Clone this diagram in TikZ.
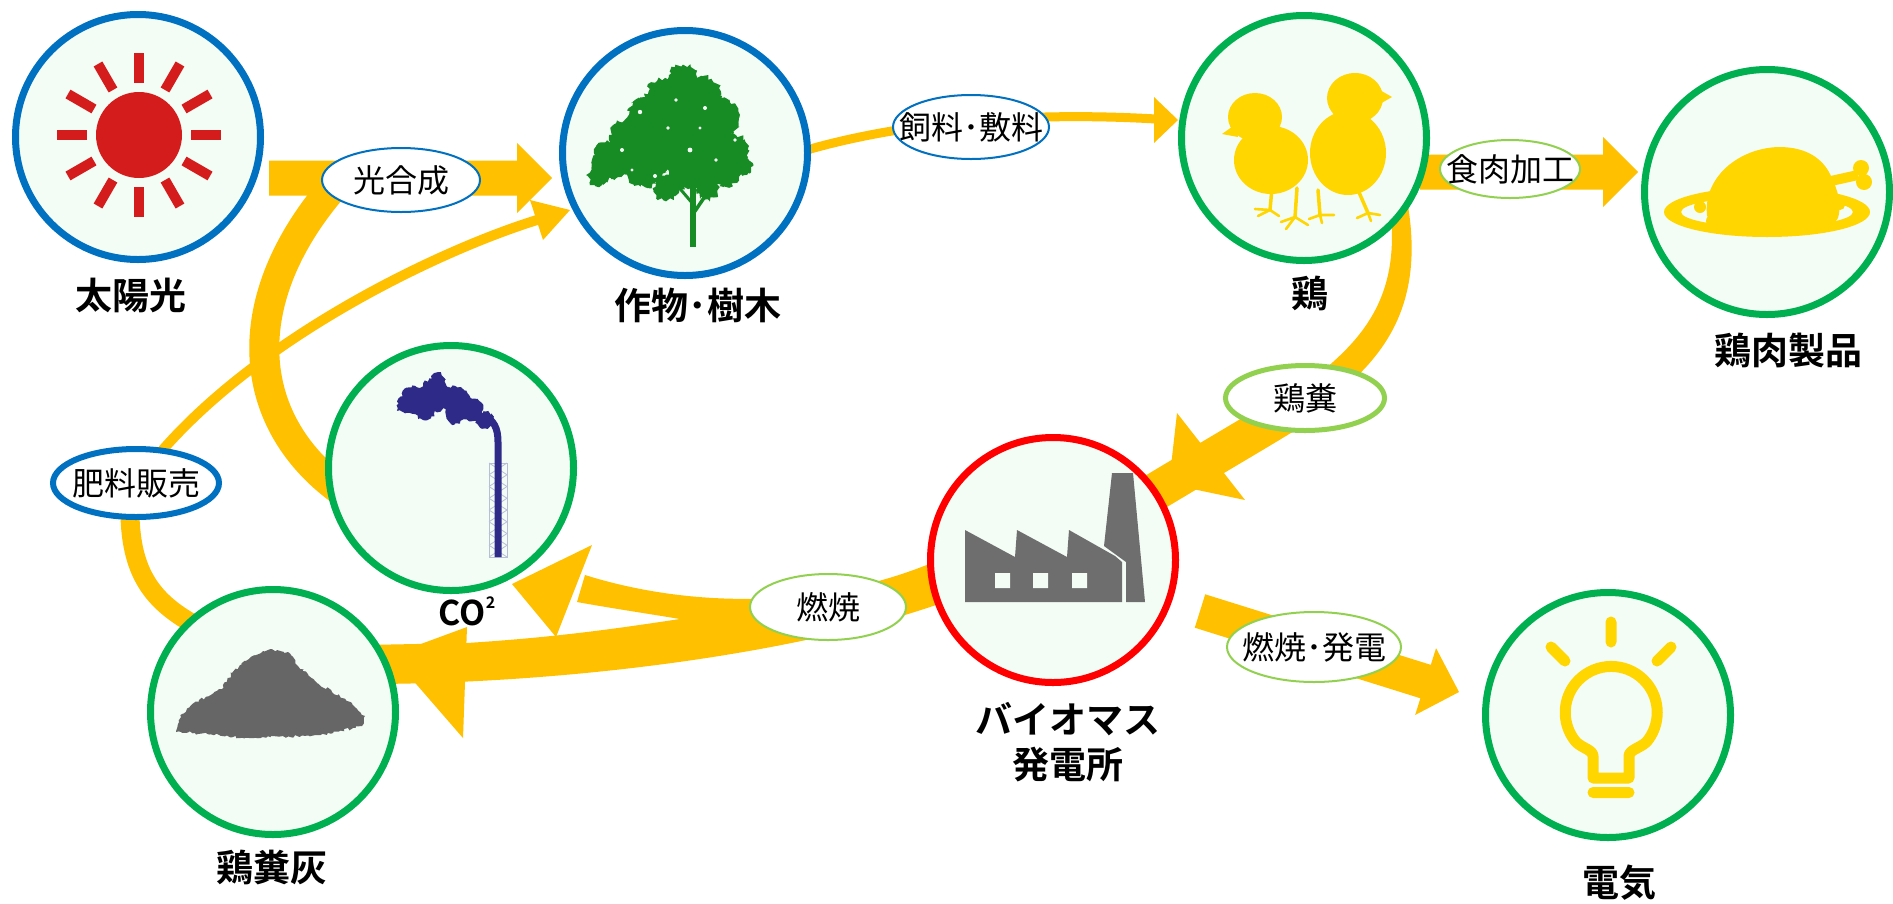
\documentclass[tikz,border=0pt]{standalone}
\usepackage{fontspec}
\newfontfamily\jp{Noto Sans CJK JP}
\newfontfamily\jpb{Noto Sans CJK JP Bold}
\usetikzlibrary{calc,shapes.geometric,decorations.pathmorphing}

\definecolor{flowc}{RGB}{255,192,0}
\definecolor{ringblue}{RGB}{0,112,192}
\definecolor{ringgreen}{RGB}{0,176,80}
\definecolor{ringred}{RGB}{255,0,0}
\definecolor{tagreen}{RGB}{146,208,80}
\definecolor{bgc}{RGB}{244,252,246}
\definecolor{sunred}{RGB}{212,28,28}
\definecolor{leafc}{RGB}{24,140,36}
\definecolor{chicky}{RGB}{255,214,0}
\definecolor{factgray}{RGB}{110,110,110}
\definecolor{ashgray}{RGB}{102,102,102}
\definecolor{smoke}{RGB}{46,42,135}
\definecolor{lattice}{RGB}{185,190,215}

% straight block arrow: start, tip, half body width, half head width, head length
\newcommand\blockarrow[5]{%
  \coordinate (ba-h) at ($(#2)!#5!(#1)$);
  \fill[flowc] ($(#1)!#3!90:(#2)$) -- ($(ba-h)!#3!-90:(#1)$) -- ($(ba-h)!#4!-90:(#1)$)
    -- (#2) -- ($(ba-h)!#4!90:(#1)$) -- ($(ba-h)!#3!90:(#1)$) -- ($(#1)!#3!-90:(#2)$) -- cycle;}

\begin{document}
\begin{tikzpicture}[x=1pt,y=-1pt,
  ringnode/.style={circle, draw=#1, line width=7pt, fill=bgc, minimum size=245pt, inner sep=0pt},
  tagell/.style={ellipse, draw=#1, fill=white, inner sep=0pt, font=\jp\fontsize{32}{34}\selectfont},
  lbl/.style={inner sep=0pt, font=\jpb\fontsize{37}{45}\selectfont, align=center},
  leafy/.style={decorate, decoration={random steps, segment length=2.5pt, amplitude=2.4pt}},
  rough/.style={decorate, decoration={random steps, segment length=2.5pt, amplitude=1.5pt}},
]
\pgfmathsetseed{7}
\useasboundingbox (0,0) rectangle (1893,903);
\fill[white] (0,0) rectangle (1893,903);

% ---- centres of the stations
\coordinate (c-sun)   at (138,137);
\coordinate (c-tree)  at (685,153);
\coordinate (c-chick) at (1304,138);
\coordinate (c-meat)  at (1767,192);
\coordinate (c-co2)   at (451,468);
\coordinate (c-ash)   at (273,712);
\coordinate (c-plant) at (1053,560);
\coordinate (c-bulb)  at (1608,715);

% ---- flows
% photosynthesis
\coordinate (ps-a) at (269,178); \coordinate (ps-b) at (552,178);
\blockarrow{ps-a}{ps-b}{17.5pt}{35pt}{35pt}
% meat processing
\coordinate (mp-a) at (1420,172); \coordinate (mp-b) at (1638,172);
\blockarrow{mp-a}{mp-b}{17.5pt}{35pt}{35pt}
% combustion and power generation
\coordinate (pg-a) at (1200,611); \coordinate (pg-b) at (1459,692);
\blockarrow{pg-a}{pg-b}{17.5pt}{35pt}{35pt}

% CO2 taken up again by photosynthesis
\coordinate (cc-a) at (340,490); \coordinate (cc-b) at (335,185);
\draw[flowc, line width=30pt] (cc-a) .. controls (245,420) and (235,300) .. (cc-b);

% feed and bedding
\coordinate (fd-a) at (800,152); \coordinate (fd-b) at (1156,119); \coordinate (fd-t) at (1178,120);
\draw[flowc, line width=9pt] (fd-a) .. controls (880,128) and (1000,110) .. (fd-b);
\fill[flowc] (1154,97) -- (fd-t) -- (1154,143) -- cycle;

% fertiliser sales
\coordinate (fz-a) at (195,625); \coordinate (fz-m1) at (130,500);
\coordinate (fz-m2) at (150,465); \coordinate (fz-b) at (537,220); \coordinate (fz-t) at (570,210);
\draw[flowc, line width=19pt] (fz-a) .. controls (150,600) and (128,570) .. (fz-m1);
\draw[flowc, line width=10pt] (fz-m2) .. controls (250,340) and (440,250) .. (fz-b);
\fill[flowc] (530,200) -- (fz-t) -- (543,240) -- cycle;

% chicken manure to the plant
\fill[flowc] (1389,200) .. controls (1404,300) and (1360,345) .. (1295,392) -- (1315,410)
  .. controls (1385,362) and (1426,305) .. (1407,200) -- cycle;
\draw[flowc, line width=38pt] (1300,405) .. controls (1260,430) and (1230,447) .. (1150,495);
\fill[flowc] (1177,413) -- (1169,484) -- (1245,500) -- cycle;

% combustion: split towards CO2 and ash
\fill[flowc] (950,555) .. controls (820,615) and (680,605) .. (585,575) -- (577,602)
  .. controls (610,608) and (650,614) .. (680,619)
  .. controls (620,628) and (560,637) .. (467,643) -- (365,645) -- (365,684)
  .. controls (560,684) and (800,655) .. (950,600) -- cycle;
\fill[flowc] (592,545) -- (512,584) -- (556,637) -- cycle;
\fill[flowc] (467,627) -- (391,655) -- (463,738) -- cycle;

% ---- stations
\node[ringnode=ringblue]  (sun)   at (c-sun)   {};
\node[ringnode=ringblue]  (tree)  at (c-tree)  {};
\node[ringnode=ringgreen] (chick) at (c-chick) {};
\node[ringnode=ringgreen] (meat)  at (c-meat)  {};
\node[ringnode=ringgreen] (co2)   at (c-co2)   {};
\node[ringnode=ringgreen] (ash)   at (c-ash)   {};
\node[ringnode=ringred]   (plant) at (c-plant) {};
\node[ringnode=ringgreen] (bulb)  at (c-bulb)  {};

% ---- sun
\coordinate (sun-i) at (139,135);
\fill[sunred] (sun-i) circle[radius=43];
\foreach \a in {0,30,...,330}
  \draw[sunred, line width=10pt] ($(sun-i)+(\a:52)$) -- ($(sun-i)+(\a:82)$);

% ---- tree
\draw[leafc, line width=6pt] (693,247) -- (693,178);
\draw[leafc, line width=3.5pt] (693,214) -- (712,186);
\draw[leafc, line width=3pt] (693,204) -- (676,184);
\fill[leafc, leafy]
  (683,80) circle[radius=15] (665,97) circle[radius=19] (701,95) circle[radius=19]
  (650,118) circle[radius=23] (685,115) circle[radius=25] (718,118) circle[radius=21]
  (630,140) circle[radius=21] (665,140) circle[radius=25] (704,140) circle[radius=25]
  (732,150) circle[radius=16] (611,160) circle[radius=19] (645,166) circle[radius=21]
  (688,168) circle[radius=21] (724,170) circle[radius=17] (599,176) circle[radius=11]
  (666,188) circle[radius=13] (708,188) circle[radius=11] (744,166) circle[radius=9];
\fill[bgc] (640,112) circle[radius=2.2] (668,128) circle[radius=1.8] (705,108) circle[radius=2]
  (622,150) circle[radius=2] (690,150) circle[radius=2.4] (716,160) circle[radius=1.8]
  (655,176) circle[radius=2] (700,128) circle[radius=1.6] (676,100) circle[radius=1.8]
  (735,140) circle[radius=1.8] (632,170) circle[radius=1.6];

% ---- chicks
\fill[chicky] (1255,117) ellipse[x radius=27, y radius=24];
\fill[chicky] (1271,160) ellipse[x radius=37, y radius=34];
\fill[chicky] (1236,124) -- (1222,134) -- (1238,137) -- cycle;
\fill[chicky] (1355,98) ellipse[x radius=28, y radius=25];
\fill[chicky] (1348,153) ellipse[x radius=38, y radius=42];
\fill[chicky] (1378,89) -- (1392,97) -- (1378,105) -- cycle;
\draw[chicky, line width=3.5pt, line cap=round]
  (1272,188) -- (1270,210) (1297,188) -- (1295,217)
  (1318,190) -- (1320,215) (1358,190) -- (1368,213);
\draw[chicky, line width=2.6pt, line cap=round]
  (1270,210) -- (1255,209) (1270,210) -- (1258,216) (1270,210) -- (1279,216)
  (1295,217) -- (1281,222) (1295,217) -- (1286,229) (1295,217) -- (1308,225)
  (1320,215) -- (1309,219) (1320,215) -- (1334,215) (1320,215) -- (1322,223)
  (1368,213) -- (1357,218) (1368,213) -- (1380,215) (1368,213) -- (1371,221);

% ---- roast chicken on a plate
\fill[chicky, even odd rule] (1767,212) ellipse[x radius=103, y radius=25]
  (1767,212) ellipse[x radius=86, y radius=15];
\fill[chicky] (1707,215) .. controls (1703,178) and (1738,148) .. (1779,147)
  .. controls (1808,147) and (1823,160) .. (1830,174)
  .. controls (1838,190) and (1842,205) .. (1838,218)
  .. controls (1834,226) and (1820,228) .. (1800,228) -- (1725,228)
  .. controls (1712,228) and (1708,222) .. (1707,215) -- cycle;
\draw[chicky, line width=10pt] (1822,183) -- (1858,175);
\fill[chicky] (1861,168) circle[radius=8] (1864,182) circle[radius=8];
\fill[chicky] (1700,207) circle[radius=6] (1712,221) circle[radius=6] (1840,205) circle[radius=5];

% ---- smoke stack
\draw[lattice, line width=1pt] (489,463) rectangle (507,557);
\foreach \k in {0,...,7}
  \draw[lattice, line width=0.8pt] (489,463+\k*11.75) -- (507,474.75+\k*11.75)
    (507,463+\k*11.75) -- (489,474.75+\k*11.75);
\draw[smoke, line width=7pt] (498,557) -- (498,442) .. controls (498,428) and (494,420) .. (482,414);
\fill[smoke, rough]
  (415,400) circle[radius=14] (435,395) circle[radius=16] (455,400) circle[radius=14]
  (472,410) circle[radius=11] (485,420) circle[radius=8] (438,380) circle[radius=7]
  (405,405) circle[radius=8] (425,410) circle[radius=10] (455,415) circle[radius=9];

% ---- ash heap
\fill[ashgray, rough]
  (176,732) -- (182,714) -- (199,700) -- (222,689) -- (232,673) -- (249,659) -- (268,650)
  -- (288,652) -- (298,666) -- (315,681) -- (332,692) -- (352,703) -- (365,716)
  -- (362,726) -- (333,733) -- (290,737) -- (249,738) -- (195,733) -- cycle;

% ---- factory
\fill[factgray] (965,530) -- (1015,557) -- (1017,530) -- (1067,557) -- (1069,530)
  -- (1115,556) -- (1122,562) -- (1122,602) -- (965,602) -- cycle;
\fill[factgray] (1112,473) -- (1133,473) -- (1145,602) -- (1126,602) -- (1126,562) -- (1104,546) -- cycle;
\fill[bgc] (995,573) rectangle (1010,588) (1033,573) rectangle (1048,588) (1072,573) rectangle (1087,588);

% ---- light bulb
\draw[chicky, line width=11pt, line join=round]
  (1593,778) -- (1593,756) .. controls (1593,750) and (1582,748) .. (1576,742)
  arc[start angle=140, end angle=400, radius=46]
  .. controls (1640,748) and (1629,750) .. (1629,756) -- (1629,778) -- cycle;
\draw[chicky, line width=11pt, line cap=round]
  (1593,792.5) -- (1629,792.5)
  (1611,622) -- (1611,642)
  (1551,647) -- (1565,661)
  (1671,647) -- (1657,661);

% ---- flow tags
\node[tagell=ringblue, line width=2pt, minimum width=158pt, minimum height=64pt] (t-photo) at (401,180) {\makebox[0pt]{光合成}};
\node[tagell=ringblue, line width=2pt, minimum width=156pt, minimum height=64pt] (t-feed) at (971,127) {\makebox[0pt]{飼料･敷料}};
\node[tagell=tagreen, line width=2pt, minimum width=140pt, minimum height=58pt] (t-meat) at (1510,169) {\makebox[0pt]{食肉加工}};
\node[tagell=tagreen, line width=5pt, minimum width=159pt, minimum height=65pt] (t-manure) at (1305,398) {\makebox[0pt]{鶏糞}};
\node[tagell=ringblue, line width=6pt, minimum width=166pt, minimum height=68pt] (t-fert) at (136,483) {\makebox[0pt]{肥料販売}};
\node[tagell=tagreen, line width=2pt, minimum width=156pt, minimum height=66pt] (t-burn) at (828,607) {\makebox[0pt]{燃焼}};
\node[tagell=tagreen, line width=2pt, minimum width=174pt, minimum height=70pt] (t-gen) at (1314,647) {\makebox[0pt]{燃焼･発電}};

% ---- station names
\node[lbl] (n-sun)   at (131,295)  {太陽光};
\node[lbl] (n-tree)  at (698,305)  {作物･樹木};
\node[lbl] (n-chick) at (1310,293) {鶏};
\node[lbl] (n-meat)  at (1788,350) {鶏肉製品};
\node[lbl, anchor=base, font=\jpb\fontsize{34}{36}\selectfont] (n-co2) at (467,625)
  {CO\raisebox{17pt}{\fontsize{16}{16}\selectfont 2}};
\node[lbl] (n-ash)   at (272,867)  {鶏糞灰};
\node[lbl] (n-plant) at (1068,742) {バイオマス\\発電所};
\node[lbl] (n-bulb)  at (1619,883) {電気};
\end{tikzpicture}
\end{document}
